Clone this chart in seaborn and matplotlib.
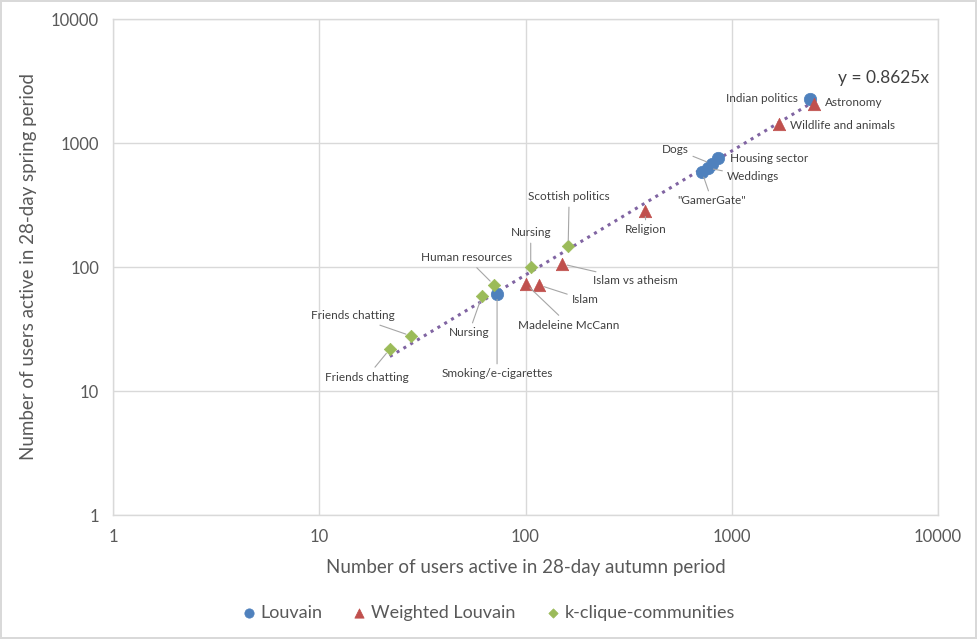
import numpy as np
import pandas as pd
import matplotlib
matplotlib.use("Agg")
import matplotlib.pyplot as plt
import seaborn as sns

# ---- data ----
louvain_labels = ["Indian politics", "Housing sector", "Dogs", "Weddings", '"GamerGate"', "Smoking/e-cigarettes"]
louvain_x = [2395, 857, 802, 767, 717, 72.8]
louvain_y = [2264, 757, 677, 629, 584, 60.6]

wl_labels = ["Astronomy", "Wildlife and animals", "Religion", "Islam vs atheism", "Islam", "Madeleine McCann"]
wl_x = [2505, 1695, 380, 150, 116, 100.5]
wl_y = [2063, 1423, 283, 106, 71.6, 72.9]

kc_labels = ["Scottish politics", "Nursing", "Human resources", "Nursing", "Friends chatting", "Friends chatting"]
kc_x = [161, 106, 70.4, 61.5, 27.9, 22.0]
kc_y = [147.7, 100, 71.6, 58.4, 27.8, 21.8]

slope = 0.8625
tick_vals = [1, 10, 100, 1000, 10000]

# label offsets in pixels (dx, dy-down), alignment, leader line
label_style = {
    "Louvain": [(-12, 0, "right", False), (12, 1, "left", False), (-37, -15, "center", True),
                (19, 9, "left", True), (10, 29, "center", True), (0, 80, "center", True)],
    "Weighted Louvain": [(11, -2, "left", False), (11, 1, "left", False), (1, 19, "center", True),
                         (31, 17, "left", True), (33, 15, "left", True), (43, 41, "center", True)],
    "k-clique-communities": [(1, -49, "center", True), (0, -34, "center", True), (-27, -27, "center", True),
                             (-13, 37, "center", True), (-58, -20, "center", True), (-23, 28, "center", True)],
}

groups = {
    "Louvain": (louvain_x, louvain_y, louvain_labels, "o", "#4F81BD", 80),
    "Weighted Louvain": (wl_x, wl_y, wl_labels, "^", "#C0504D", 80),
    "k-clique-communities": (kc_x, kc_y, kc_labels, "D", "#9BBB59", 40),
}

sns.set_theme(style="white")
plt.rcParams["font.family"] = ["Lato", "DejaVu Sans"]

fig = plt.figure(figsize=(9.77, 6.39), dpi=100)
ax = fig.add_axes([113 / 977, 1 - 515 / 639, (938 - 113) / 977, (515 - 19) / 639])
fig.patch.set_edgecolor("#D9D9D9")
fig.patch.set_linewidth(1.5)

# trendline
all_x = louvain_x + wl_x + kc_x
tx = np.array([min(all_x), max(all_x)])
trend = pd.DataFrame({"x": tx, "y": slope * tx})
sns.lineplot(data=trend, x="x", y="y", ax=ax, color="#8064A2", linestyle=(0, (1, 1.6)),
             linewidth=2.2, legend=False, zorder=2)

for name, (xs, ys, labs, mk, col, s) in groups.items():
    df = pd.DataFrame({"x": xs, "y": ys, "label": labs})
    sns.scatterplot(data=df, x="x", y="y", ax=ax, marker=mk, color=col, s=s,
                    edgecolor=col, linewidth=0.5, label=name, zorder=3)
    for (xv, yv, lab), (dx, dy, ha, lead) in zip(zip(xs, ys, labs), label_style[name]):
        ax.annotate(lab, (xv, yv), xytext=(dx * 0.72, -dy * 0.72), textcoords="offset points",
                    ha=ha, va="center", fontsize=8.5, color="#404040",
                    arrowprops=dict(arrowstyle="-", color="#A6A6A6", lw=0.8, shrinkA=1, shrinkB=4) if lead else None,
                    zorder=4)

ax.annotate("y = 0.8625x", (tx[-1], slope * tx[-1]), xytext=(69 * 0.72, 24 * 0.72),
            textcoords="offset points", ha="center", va="center", fontsize=12.5, color="#404040")

ax.set_xscale("log")
ax.set_yscale("log")
ax.set_xlim(1, 10000)
ax.set_ylim(1, 10000)
ax.set_xticks(tick_vals)
ax.set_yticks(tick_vals)
ax.set_xticklabels([str(v) for v in tick_vals])
ax.set_yticklabels([str(v) for v in tick_vals])
ax.minorticks_off()
ax.tick_params(axis="both", length=0, labelsize=12, labelcolor="#595959", pad=10)
ax.grid(True, which="major", color="#D9D9D9", linewidth=1)
for sp in ax.spines.values():
    sp.set_color("#D9D9D9")
    sp.set_linewidth(1)

ax.set_xlabel("Number of users active in 28-day autumn period", fontsize=13.5, color="#595959", labelpad=10)
ax.set_ylabel("Number of users active in 28-day spring period", fontsize=13.5, color="#595959", labelpad=10)

ax.legend(loc="center", bbox_to_anchor=(0.5, 1 - 613 / 639), bbox_transform=fig.transFigure,
          ncol=3, frameon=False, fontsize=13, handlelength=0.7, handletextpad=0.3, columnspacing=1.7,
          markerscale=0.75, labelcolor="#595959")

fig.savefig("out.png", dpi=100)
